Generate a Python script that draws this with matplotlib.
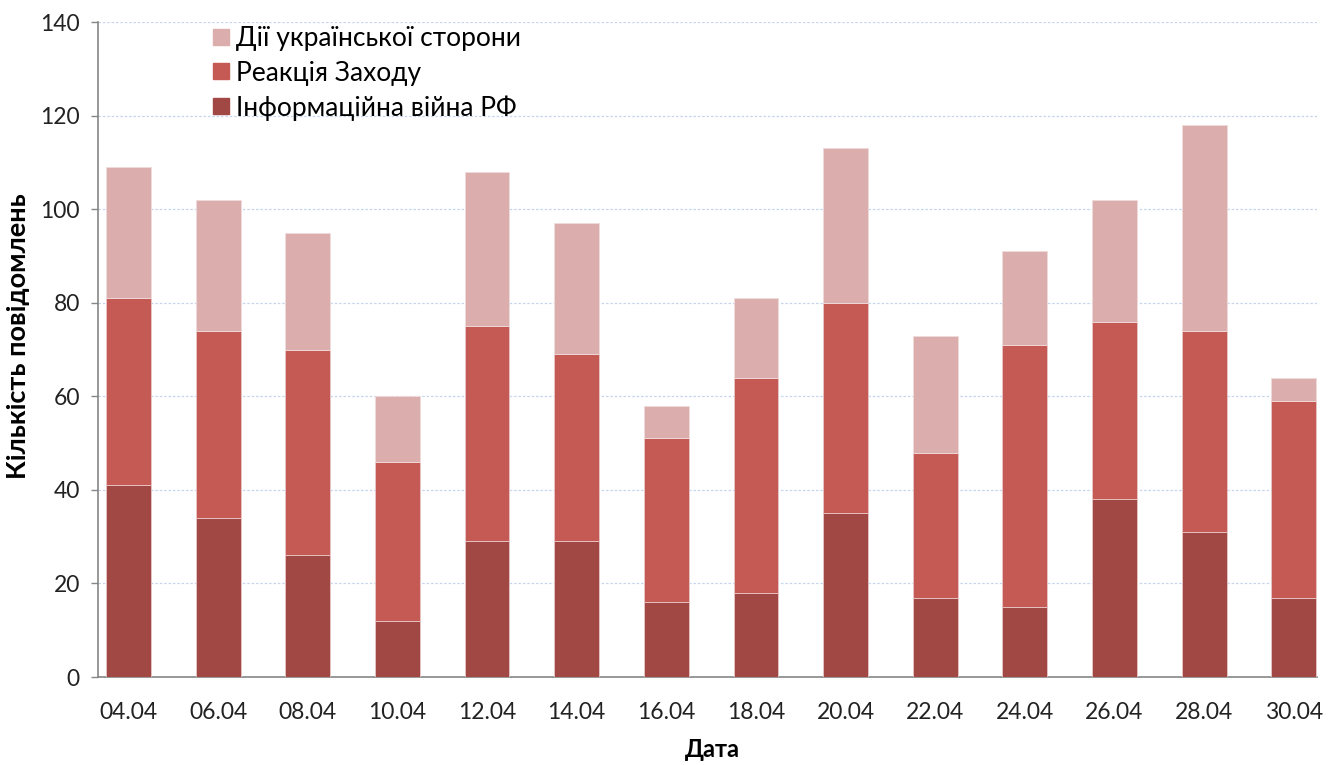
import matplotlib.pyplot as plt
from matplotlib.lines import Line2D
import numpy as np

dates = ['04.04', '06.04', '08.04', '10.04', '12.04', '14.04', '16.04',
         '18.04', '20.04', '22.04', '24.04', '26.04', '28.04', '30.04']
info_war = [41, 34, 26, 12, 29, 29, 16, 18, 35, 17, 15, 38, 31, 17]
west = [40, 40, 44, 34, 46, 40, 35, 46, 45, 31, 56, 38, 43, 42]
ukraine = [28, 28, 25, 14, 33, 28, 7, 17, 33, 25, 20, 26, 44, 5]

labels = ['Дії української сторони', 'Реакція Заходу', 'Інформаційна війна РФ']
c_dark = '#A24844'
c_mid = '#C55953'
c_light = '#DBADAC'

plt.rcParams['font.family'] = ['Lato', 'DejaVu Sans']

fig = plt.figure(figsize=(13.3, 7.65), dpi=100)
ax = fig.add_axes([0.0737, 0.115, 0.9166, 0.856])

x = np.arange(len(dates))
w = 0.5
ax.bar(x, info_war, w, color=c_dark, edgecolor='#E8C8C8', linewidth=0.6, zorder=3)
ax.bar(x, west, w, bottom=info_war, color=c_mid, edgecolor='#E8C8C8', linewidth=0.6, zorder=3)
bottom2 = np.array(info_war) + np.array(west)
ax.bar(x, ukraine, w, bottom=bottom2, color=c_light, edgecolor='#F0DCDC', linewidth=0.6, zorder=3)

ax.set_ylim(0, 140)
ax.set_yticks(range(0, 141, 20))
ax.set_xlim(-0.34, 13.26)
ax.set_xticks(x)
ax.set_xticklabels(dates)
ax.tick_params(axis='x', length=0, pad=18, labelsize=16.5, colors='#222222')
ax.tick_params(axis='y', length=5, width=1, color='#868686', pad=8, labelsize=16.5, labelcolor='#222222')

ax.grid(axis='y', color='#C6D6EE', linestyle=(0, (2, 1.5)), linewidth=0.9, zorder=0)
for s in ['top', 'right']:
    ax.spines[s].set_visible(False)
for s in ['left', 'bottom']:
    ax.spines[s].set_color('#868686')
    ax.spines[s].set_linewidth(1.2)

ax.set_ylabel('Кількість повідомлень', fontsize=19.5, fontweight='bold')
ax.set_xlabel('Дата', fontsize=17, fontweight='bold')
ax.yaxis.set_label_coords(-0.056, 0.52)
ax.xaxis.set_label_coords(0.504, -0.093)

handles = [Line2D([], [], marker='s', linestyle='none', markersize=11, color=c)
           for c in [c_light, c_mid, c_dark]]
ax.legend(handles, labels, loc='upper left', bbox_to_anchor=(0.083, 1.01), frameon=False,
          fontsize=19, handletextpad=0.15, labelspacing=0.36, handlelength=0.85,
          borderaxespad=0.0)

fig.savefig('out.png', dpi=100)
